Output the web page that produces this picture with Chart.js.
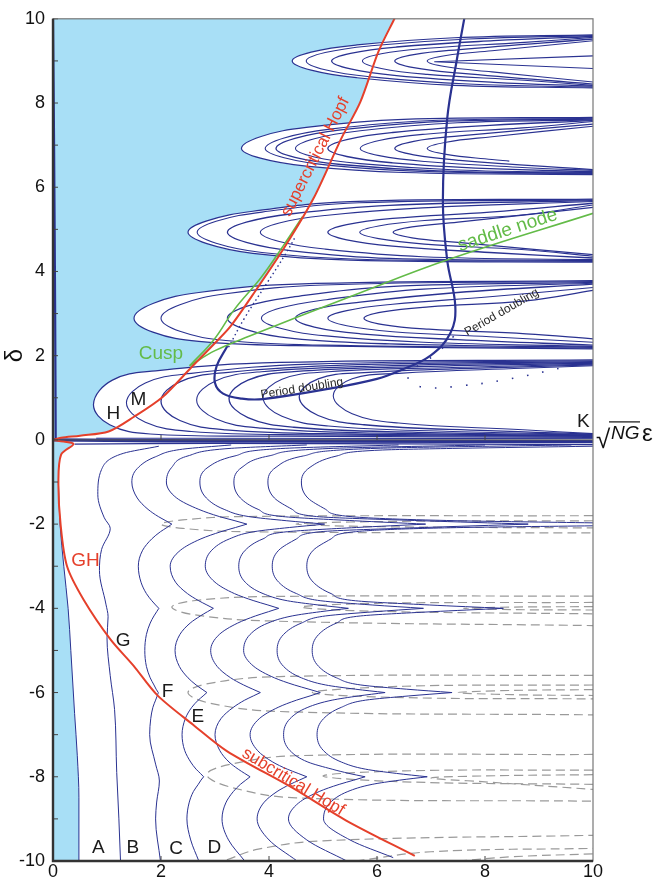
<!DOCTYPE html>
<html>
<head>
<meta charset="utf-8">
<style>
  html, body { margin: 0; padding: 0; background: #fff; }
  #wrap { width: 659px; height: 886px; }
</style>
<script src="https://cdn.jsdelivr.net/npm/chart.js@4.4.1/dist/chart.umd.min.js"></script>
</head>
<body>
<div id="wrap"><canvas id="myChart" width="659" height="886"></canvas></div>
<script>
'use strict';

var NAVY = '#2a3291', RED = '#e5402b', GREEN = '#63bb48', SKY = '#a8dff6', GREY = '#9a9a9a';
var FONT = "'Liberation Sans', Arial, Helvetica, sans-serif";

// axes
var xTickValues = [0, 2, 4, 6, 8, 10];
var yTickValues = [-10, -9, -8, -7, -6, -5, -4, -3, -2, -1, 0, 1, 2, 3, 4, 5, 6, 7, 8, 9, 10];
var yLabelValues = [-10, -8, -6, -4, -2, 0, 2, 4, 6, 8, 10];

// bifurcation lines  [sqrt(NG)*eps, delta]
var hopfSuper = [[0,0],[0.15,0.05],[0.5,0.1],[1.03,0.2],[1.5,0.55],[2.03,1.02],[2.56,1.72],[3.0,2.3],[3.29,2.7],[3.76,3.56],[4.29,4.58],[4.83,5.75],[5.34,7.16],[5.69,8.02],[6.03,9.23],[6.33,10.02]];
var hopfSub = [[0,0],[0.2,-0.04],[0.38,-0.1],[0.15,-0.35],[0.1,-1.0],[0.14,-2.0],[0.26,-3.0],[0.57,-3.8],[1.06,-4.73],[1.49,-5.36],[1.93,-6.06],[2.6,-6.77],[3.22,-7.39],[4.43,-8.26],[5.43,-9.04],[6.7,-9.88]];
var cuspBranch = [[2.53,1.76],[2.98,2.38],[3.36,3.1],[3.85,3.85],[4.27,4.62],[4.62,5.3]];
var saddleNode = [[2.53,1.76],[3.0,2.12],[3.63,2.46],[5.5,3.4],[7.36,4.3],[10,5.38]];
var pdCurve = [[3.23,2.23],[3.03,1.75],[3.0,1.35],[3.15,1.1],[3.5,0.98],[3.89,0.97],[5.09,1.21],[6.0,1.45],[6.43,1.65],[6.99,2.0],[7.36,2.54],[7.45,3.17],[7.3,4.27],[7.22,5.67],[7.3,7.63],[7.48,9.04],[7.63,10.1]];
var pdDotsLeft = [[3.25,2.2],[3.55,2.9],[3.95,3.7],[4.3,4.4],[4.5,4.85]];
var pdDotsRight = [[7.42,2.46],[7.1,2.05],[6.7,1.7],[6.58,1.45],[6.86,1.25],[7.6,1.29],[8.47,1.45],[9.58,1.76]];
var leftEdge = [[0.05,0.02],[0.04,3],[0.02,7],[0,10]];
var zeroBand = [[0,0],[2,-0.02],[10,-0.04]];
var zeroBandLow = [[0.4,-0.1],[3,-0.08],[10,-0.11]];
var zeroBandHigh = [[0.8,0.04],[10,0.03]];

// upper half: tongues (first curve of each row is the outer one)
var tonguesRow1 = [
  [[10,1.9],[4.2,1.84],[1.9,1.64],[1.1,1.42],[0.75,0.85],[1.05,0.36],[1.8,0.14],[4.2,0.09],[10,0.06]],
  [[10,1.88],[4.8,1.8],[2.56,1.58],[1.71,1.35],[1.36,0.88],[1.71,0.42],[2.56,0.2],[4.8,0.12],[10,0.08]],
  [[10,1.86],[5.5,1.78],[3.2,1.6],[2.35,1.38],[2.0,0.92],[2.35,0.46],[3.2,0.24],[5.5,0.14],[10,0.1]],
  [[10,1.84],[6.16,1.76],[3.86,1.62],[3.01,1.4],[2.66,0.95],[3.01,0.5],[3.86,0.28],[6.16,0.16],[10,0.11]],
  [[10,1.82],[6.76,1.74],[4.46,1.62],[3.61,1.42],[3.26,0.98],[3.61,0.53],[4.46,0.3],[6.76,0.18],[10,0.12]],
  [[10,1.8],[7.4,1.72],[5.1,1.62],[4.24,1.44],[3.89,1.0],[4.24,0.56],[5.1,0.33],[7.4,0.2],[10,0.13]],
  [[10,1.78],[8.06,1.71],[5.76,1.6],[4.91,1.45],[4.56,1.02],[4.91,0.58],[5.76,0.36],[8.06,0.22],[10,0.14]],
  [[10,1.76],[8.7,1.7],[6.4,1.58],[5.54,1.45],[5.19,1.05],[5.54,0.62],[6.4,0.4],[8.7,0.24],[10,0.15]]
];
var tonguesRow2 = [
  [[10,3.78],[4.5,3.7],[2.7,3.5],[1.85,3.24],[1.5,2.89],[1.85,2.56],[2.7,2.34],[4.5,2.24],[10,2.16]],
  [[10,3.76],[5.0,3.68],[3.2,3.47],[2.35,3.21],[2.0,2.89],[2.35,2.58],[3.2,2.36],[5.0,2.25],[10,2.18]],
  [[10,3.74],[6.23,3.64],[4.43,3.39],[3.58,3.17],[3.23,2.89],[3.58,2.62],[4.43,2.41],[6.23,2.28],[10,2.2]],
  [[10,3.72],[6.86,3.58],[5.06,3.33],[4.21,3.13],[3.86,2.89],[4.21,2.65],[5.06,2.47],[6.86,2.32],[10,2.22]],
  [[10,3.7],[7.49,3.5],[5.69,3.27],[4.84,3.1],[4.49,2.89],[4.84,2.68],[5.69,2.52],[7.49,2.38],[10,2.25]],
  [[10,3.62],[8.09,3.4],[6.29,3.22],[5.44,3.07],[5.09,2.89],[5.44,2.71],[6.29,2.57],[8.09,2.45],[10,2.32]],
  [[10,3.55],[8.76,3.3],[6.96,3.16],[6.11,3.04],[5.76,2.89],[6.11,2.74],[6.96,2.63],[8.76,2.52],[10,2.4]]
];
var tonguesRow3 = [
  [[10,5.72],[5.5,5.66],[3.7,5.43],[2.85,5.2],[2.5,4.93],[2.85,4.66],[3.7,4.43],[5.5,4.27],[10,4.22]],
  [[10,5.7],[5.67,5.63],[3.87,5.41],[3.02,5.19],[2.67,4.93],[3.02,4.67],[3.87,4.45],[5.67,4.29],[10,4.24]],
  [[10,5.68],[6.23,5.57],[4.43,5.37],[3.58,5.17],[3.23,4.93],[3.58,4.69],[4.43,4.49],[6.23,4.31],[10,4.26]],
  [[10,5.66],[6.84,5.51],[5.04,5.33],[4.19,5.15],[3.84,4.93],[4.19,4.71],[5.04,4.53],[6.84,4.35],[10,4.28]],
  [[10,5.62],[8.09,5.41],[6.29,5.26],[5.44,5.11],[5.09,4.93],[5.44,4.75],[6.29,4.6],[8.09,4.45],[10,4.32]],
  [[10,5.58],[8.68,5.34],[6.88,5.21],[6.03,5.08],[5.68,4.93],[6.03,4.78],[6.88,4.65],[8.68,4.52],[10,4.36]],
  [[10,5.52],[7.5,5.17],[6.65,5.06],[6.3,4.93],[6.65,4.8],[7.5,4.69],[10,4.4]]
];
var tonguesRow4 = [
  [[10,7.66],[6.49,7.61],[4.69,7.42],[3.84,7.2],[3.49,6.92],[3.84,6.69],[4.69,6.5],[6.49,6.35],[10,6.3]],
  [[10,7.64],[6.93,7.58],[5.13,7.38],[4.28,7.17],[3.93,6.92],[4.28,6.7],[5.13,6.52],[6.93,6.37],[10,6.32]],
  [[10,7.62],[7.13,7.56],[5.33,7.36],[4.48,7.16],[4.13,6.92],[4.48,6.71],[5.33,6.54],[7.13,6.39],[10,6.33]],
  [[10,7.6],[7.49,7.53],[5.69,7.34],[4.84,7.15],[4.49,6.92],[4.84,6.72],[5.69,6.56],[7.49,6.41],[10,6.35]],
  [[10,7.58],[8.09,7.47],[6.29,7.3],[5.44,7.13],[5.09,6.92],[5.44,6.73],[6.29,6.58],[8.09,6.44],[10,6.37]],
  [[10,7.56],[8.69,7.41],[6.89,7.26],[6.04,7.11],[5.69,6.92],[6.04,6.75],[6.89,6.61],[8.69,6.47],[10,6.4]],
  [[10,7.5],[7.53,7.22],[6.68,7.09],[6.33,6.92],[6.68,6.77],[7.53,6.64],[10,6.42]],
  [[10,7.45],[8.13,7.2],[7.28,7.07],[6.93,6.92],[7.28,6.78],[8.13,6.66],[8.45,6.62]]
];
var tonguesRow5 = [
  [[10,9.62],[7.43,9.55],[5.63,9.38],[4.78,9.21],[4.43,9.0],[4.78,8.78],[5.63,8.6],[7.43,8.42],[10,8.36]],
  [[10,9.6],[7.69,9.52],[5.89,9.36],[5.04,9.2],[4.69,9.0],[5.04,8.79],[5.89,8.62],[7.69,8.45],[10,8.38]],
  [[10,9.58],[8.16,9.48],[6.36,9.33],[5.51,9.18],[5.16,9.0],[5.51,8.81],[6.36,8.65],[8.16,8.49],[10,8.4]],
  [[10,9.56],[8.73,9.44],[6.93,9.3],[6.08,9.17],[5.73,9.0],[6.08,8.82],[6.93,8.68],[8.73,8.54],[10,8.42]],
  [[10,9.52],[7.53,9.27],[6.68,9.15],[6.33,9.0],[6.68,8.84],[7.53,8.71],[10,8.45]],
  [[10,9.48],[8.13,9.24],[7.28,9.13],[6.93,9.0],[7.28,8.86],[8.13,8.74],[10,8.5]]
];
var wedgeRow5 = [[10,9.12],[7.06,8.98],[10,8.82]];

// lower half: contours A..H ('c' = cusp, null = break), delta decreasing along each
var curveA = [[0.1,-1.0],[0.13,-2],[0.2,-3],[0.28,-4],[0.33,-5],[0.4,-6.5],[0.45,-7.5],[0.48,-8.5],[0.48,-10]];
var curveB = [[1.96,-0.15],[1.3,-0.32],[0.9,-0.7],[0.83,-1.3],[0.95,-1.85],[1.06,-2.1],[0.9,-2.6],[0.86,-3.1],[0.98,-3.9],[1.02,-4.2],[1.0,-4.7],[1.06,-5.6],[1.14,-6.4],[1.18,-7.9],[1.22,-9],[1.25,-10]];
var curveC = [[3.3,-0.12],[2.4,-0.22],[1.9,-0.4],[1.56,-0.68],[1.46,-1.0],[1.56,-1.38],[1.76,-1.65],[1.95,-1.82],[2.09,-1.92],[2.2,-2,'c'],[2.11,-2.08],[1.99,-2.18],[1.83,-2.35],[1.66,-2.62],[1.58,-3.0],[1.63,-3.38],[1.73,-3.65],[1.83,-3.82],[1.9,-3.92],[1.96,-4,'c'],[1.92,-4.08],[1.87,-4.18],[1.8,-4.35],[1.73,-4.62],[1.7,-5.0],[1.73,-5.38],[1.8,-5.65],[1.87,-5.82],[1.91,-5.92],[1.95,-6,'c'],[1.93,-6.08],[1.9,-6.18],[1.85,-6.35],[1.81,-6.62],[1.79,-7.0],[1.9,-7.7],[1.97,-8.1],[1.92,-8.6],[1.9,-9.0],[1.99,-10]];
var curveD = [[4.7,-0.12],[3.3,-0.2],[2.5,-0.38],[2.2,-0.65],[2.1,-1.0],[2.29,-1.38],[2.7,-1.65],[3.08,-1.82],[3.37,-1.92],[3.59,-2,'c'],[3.38,-2.08],[3.11,-2.18],[2.74,-2.35],[2.36,-2.62],[2.17,-3.0],[2.27,-3.38],[2.49,-3.65],[2.7,-3.82],[2.85,-3.92],[2.97,-4,'c'],[2.86,-4.08],[2.73,-4.18],[2.54,-4.35],[2.35,-4.62],[2.26,-5.0],[2.34,-5.38],[2.5,-5.65],[2.65,-5.82],[2.76,-5.92],[2.85,-6,'c'],[2.78,-6.08],[2.69,-6.18],[2.57,-6.35],[2.45,-6.62],[2.39,-7.0],[2.44,-7.38],[2.55,-7.65],[2.65,-7.82],[2.73,-7.92],[2.79,-8,'c'],[2.74,-8.08],[2.69,-8.18],[2.6,-8.35],[2.52,-8.62],[2.48,-9.0],[2.55,-9.5],[2.7,-10]];
var curveE = [[6.4,-0.12],[4.3,-0.2],[3.37,-0.38],[2.87,-0.65],[2.72,-1.0],[2.84,-1.38],[3.17,-1.65],[3.62,-1.82],[4.33,-1.92],[5.03,-2,'c'],[4.38,-2.08],[3.72,-2.18],[3.27,-2.35],[2.94,-2.62],[2.82,-3.0],[3.0,-3.38],[3.36,-3.65],[3.72,-3.82],[3.98,-3.92],[4.18,-4,'c'],[3.99,-4.08],[3.75,-4.18],[3.42,-4.35],[3.08,-4.62],[2.92,-5.0],[3.04,-5.38],[3.29,-5.65],[3.53,-5.82],[3.7,-5.92],[3.84,-6,'c'],[3.71,-6.08],[3.55,-6.18],[3.34,-6.35],[3.11,-6.62],[3.0,-7.0],[3.09,-7.38],[3.26,-7.65],[3.43,-7.82],[3.55,-7.92],[3.65,-8,'c'],[3.57,-8.08],[3.47,-8.18],[3.34,-8.35],[3.2,-8.62],[3.13,-9.0],[3.25,-9.5],[3.55,-10]];
var curveF = [[8.0,-0.12],[5.2,-0.2],[4.0,-0.38],[3.5,-0.65],[3.35,-1.0],[3.47,-1.38],[3.8,-1.65],[4.25,-1.82],[5.58,-1.92],[6.9,-2,'c'],[5.62,-2.08],[4.34,-2.18],[3.89,-2.35],[3.56,-2.62],[3.44,-3.0],[3.56,-3.38],[3.89,-3.65],[4.34,-3.82],[4.91,-3.92],[5.47,-4,'c'],[4.95,-4.08],[4.43,-4.18],[3.98,-4.35],[3.65,-4.62],[3.53,-5.0],[3.72,-5.38],[4.1,-5.65],[4.47,-5.82],[4.74,-5.92],[4.95,-6,'c'],[4.76,-6.08],[4.51,-6.18],[4.17,-6.35],[3.82,-6.62],[3.65,-7.0],[3.79,-7.38],[4.07,-7.65],[4.34,-7.82],[4.54,-7.92],[4.7,-8,'c'],[4.56,-8.08],[4.39,-8.18],[4.15,-8.35],[3.9,-8.62],[3.78,-9.0],[4.0,-9.5],[4.52,-10]];
var curveG = [[9.6,-0.12],[6.0,-0.2],[4.64,-0.38],[4.13,-0.65],[3.98,-1.0],[4.1,-1.38],[4.43,-1.65],[4.88,-1.82],[6.84,-1.92],[8.8,-2,'c'],[6.88,-2.08],[4.96,-2.18],[4.51,-2.35],[4.18,-2.62],[4.06,-3.0],[4.18,-3.38],[4.51,-3.65],[4.96,-3.82],[5.91,-3.92],[6.86,-4,'c'],[5.96,-4.08],[5.05,-4.18],[4.6,-4.35],[4.27,-4.62],[4.15,-5.0],[4.27,-5.38],[4.6,-5.65],[5.05,-5.82],[5.6,-5.92],[6.15,-6,'c'],[5.66,-6.08],[5.17,-6.18],[4.72,-6.35],[4.39,-6.62],[4.27,-7.0],[4.39,-7.38],[4.72,-7.65],[5.17,-7.82],[5.48,-7.92],[5.78,-8,'c'],[5.57,-8.08],[5.3,-8.18],[4.93,-8.35],[4.55,-8.62],[4.36,-9.0],[4.7,-9.5],[5.44,-10]];
var curveH = [[10,-0.15],[7.5,-0.2],[6.1,-0.24],[5.26,-0.38],[4.76,-0.65],[4.6,-1.0],[4.72,-1.38],[5.05,-1.65],[5.5,-1.82],[7.5,-1.92],[10,-1.97],null,[10,-2.04],[7.6,-2.08],[5.6,-2.18],[5.15,-2.35],[4.82,-2.62],[4.7,-3.0],[4.82,-3.38],[5.15,-3.65],[5.6,-3.82],[6.97,-3.92],[8.34,-4,'c'],[7.02,-4.08],[5.7,-4.18],[5.25,-4.35],[4.92,-4.62],[4.8,-5.0],[4.92,-5.38],[5.25,-5.65],[5.7,-5.82],[6.55,-5.92],[7.39,-6,'c'],[6.59,-6.08],[5.79,-6.18],[5.34,-6.35],[5.01,-6.62],[4.89,-7.0],[5.01,-7.38],[5.34,-7.65],[5.79,-7.82],[6.36,-7.92],[6.93,-8,'c'],[6.42,-8.08],[5.91,-8.18],[5.46,-8.35],[5.13,-8.62],[5.01,-9.0],[5.5,-9.5],[6.3,-9.92]];

// lower half: dashed (unstable) branches
var dashedCurves = [
  [[10,-1.8],[3.5,-1.82],[2.4,-1.9],[2.0,-2.0],[2.4,-2.1],[3.5,-2.18],[10,-2.21]],
  [[10,-1.92],[6.0,-1.94],[4.5,-2.0],[6.0,-2.06],[10,-2.09]],
  [[10,-3.71],[4.0,-3.72],[2.6,-3.82],[2.2,-3.97],[2.6,-4.15],[4.0,-4.3],[10,-4.41]],
  [[10,-3.86],[6.0,-3.88],[4.6,-3.97],[6.0,-4.07],[10,-4.13]],
  [[10,-3.96],[8.5,-3.97],[7.6,-4.0],[8.5,-4.03],[10,-4.04]],
  [[10,-5.59],[4.2,-5.62],[2.9,-5.78],[2.5,-6.0],[2.9,-6.25],[4.2,-6.45],[10,-6.53]],
  [[10,-5.82],[6.5,-5.85],[4.8,-6.0],[6.5,-6.12],[10,-6.15]],
  [[10,-5.93],[8.5,-5.95],[7.5,-6.0],[8.5,-6.05],[10,-6.07]],
  [[10,-7.47],[4.5,-7.5],[3.3,-7.7],[2.85,-7.95],[3.3,-8.25],[4.5,-8.5],[10,-8.58]],
  [[10,-7.84],[6.5,-7.86],[5.0,-7.98],[6.5,-8.12],[10,-8.18]],
  [[10,-7.95],[8.0,-7.98],[7.0,-8.03],[8.0,-8.12],[10,-8.3]],
  [[3.22,-9.97],[3.8,-9.72],[5.0,-9.52],[10,-9.39]],
  [[5.6,-10],[7.0,-9.78],[10,-9.7]],
  [[7.5,-10],[8.5,-9.9],[10,-9.83]]
];

// text labels: text, x, delta, colour, size, angle(deg)
var textLabels = [
  ['H', 1.12, 0.63, '#1a1a1a', 19, 0],
  ['M', 1.58, 0.96, '#1a1a1a', 19, 0],
  ['K', 9.82, 0.42, '#1a1a1a', 19, 0],
  ['A', 0.84, -9.69, '#1a1a1a', 19, 0],
  ['B', 1.48, -9.69, '#1a1a1a', 19, 0],
  ['C', 2.28, -9.72, '#1a1a1a', 19, 0],
  ['D', 2.99, -9.69, '#1a1a1a', 19, 0],
  ['E', 2.68, -6.57, '#1a1a1a', 19, 0],
  ['F', 2.12, -5.99, '#1a1a1a', 19, 0],
  ['G', 1.3, -4.77, '#1a1a1a', 19, 0],
  ['GH', 0.6, -2.86, RED, 19, 0],
  ['Cusp', 2.0, 2.04, GREEN, 19, 0],
  ['saddle node', 8.42, 4.98, GREEN, 19, -18],
  ['supercritical Hopf', 4.86, 6.72, RED, 17, -63],
  ['subcritical Hopf', 4.45, -8.12, RED, 17, 31],
  ['Period doubling', 4.61, 1.22, '#2a2a2a', 12, -9],
  ['Period doubling', 8.31, 3.03, '#2a2a2a', 12, -30]
];

function toPts(arr) {
  var out = [];
  arr.forEach(function (p) {
    if (p === null) { out.push({x: null, y: null}); return; }
    out.push({x: p[0], y: p[1]});
    if (p[2] === 'c') {
      out.push({x: null, y: null});
      out.push({x: p[0], y: p[1]});
    }
  });
  return out;
}

var datasets = [];
function addLine(arr, opt) {
  datasets.push(Object.assign({
    data: toPts(arr), showLine: true, pointRadius: 0, pointHoverRadius: 0,
    borderColor: NAVY, borderWidth: 1, tension: 0.4, fill: false, order: 15, spanGaps: false
  }, opt || {}));
}

// light blue regions
addLine([[0,0]].concat(hopfSuper, [[6.4,10.3],[-0.2,10.3]]), {fill: 'shape', backgroundColor: SKY, borderWidth: 0, borderColor: 'rgba(0,0,0,0)', tension: 0.3, order: 30});
addLine(hopfSub.slice(0, 4).concat(curveA, [[0.48,-10.3],[-0.2,-10.3],[-0.2,0]]), {fill: 'shape', backgroundColor: SKY, borderWidth: 0, borderColor: 'rgba(0,0,0,0)', tension: 0.3, order: 30});

// dashed branches
dashedCurves.forEach(function (c) {
  addLine(c, {borderColor: GREY, borderWidth: 1.2, borderDash: [9, 5], order: 25});
});

// tongues
[tonguesRow1, tonguesRow2, tonguesRow3, tonguesRow4, tonguesRow5].forEach(function (row) {
  row.forEach(function (c, i) {
    if (i === 0) addLine(c, {fill: 'shape', backgroundColor: '#ffffff', borderWidth: 1.2, order: 20});
    else addLine(c, {borderWidth: i % 2 ? 1.1 : 1.3});
  });
});
addLine(wedgeRow5, {tension: 0, borderWidth: 1.1});

// lower contours: smooth in delta
[curveA, curveB, curveC, curveD, curveE, curveF, curveG, curveH].forEach(function (c) {
  addLine(c, {type: 'line', indexAxis: 'y', cubicInterpolationMode: 'monotone', borderWidth: 1});
});

// lines along delta = 0 and the left edge
addLine(zeroBand, {borderWidth: 3.4, tension: 0, order: 12});
addLine(zeroBandLow, {borderWidth: 1.3, tension: 0.3, order: 12});
addLine(zeroBandHigh, {borderWidth: 1, tension: 0, order: 12});
addLine(leftEdge, {borderWidth: 2.2, tension: 0.3, order: 12});

// period doubling
addLine(pdCurve, {borderWidth: 2.2, order: 8});
addLine(pdDotsLeft, {borderWidth: 1.4, borderDash: [1.5, 3], order: 8});
addLine(pdDotsRight, {borderWidth: 1.6, borderDash: [1.5, 14], order: 8});

// cusp / saddle node and Hopf lines
addLine(cuspBranch, {borderColor: GREEN, borderWidth: 1.6, order: 6});
addLine(saddleNode, {borderColor: GREEN, borderWidth: 1.6, order: 6});
addLine(hopfSuper, {borderColor: RED, borderWidth: 2, tension: 0.3, order: 4});
addLine(hopfSub, {borderColor: RED, borderWidth: 2, tension: 0.3, order: 4});

var framePlugin = {
  id: 'frame',
  afterDatasetsDraw: function (chart) {
    var ctx = chart.ctx, xs = chart.scales.x, ys = chart.scales.y, a = chart.chartArea;
    ctx.save();
    var y0 = ys.getPixelForValue(0);
    ctx.strokeStyle = '#555';
    ctx.lineWidth = 1;
    ctx.beginPath(); ctx.moveTo(a.left, y0); ctx.lineTo(a.right, y0); ctx.stroke();
    ctx.strokeStyle = '#444';
    ctx.beginPath();
    [2, 4, 6, 8].forEach(function (v) {
      var px = xs.getPixelForValue(v);
      ctx.moveTo(px, y0); ctx.lineTo(px, y0 - 5);
      ctx.moveTo(px, a.bottom); ctx.lineTo(px, a.bottom - 5);
    });
    yTickValues.forEach(function (v) {
      var py = ys.getPixelForValue(v);
      ctx.moveTo(a.left, py); ctx.lineTo(a.left + 5, py);
    });
    ctx.stroke();

    textLabels.forEach(function (l) {
      ctx.save();
      ctx.translate(xs.getPixelForValue(l[1]), ys.getPixelForValue(l[2]));
      ctx.rotate(l[5] * Math.PI / 180);
      ctx.fillStyle = l[3];
      ctx.font = l[4] + 'px ' + FONT;
      ctx.textAlign = 'center';
      ctx.textBaseline = 'middle';
      ctx.fillText(l[0], 0, 0);
      ctx.restore();
    });
    ctx.restore();
  },
  afterDraw: function (chart) {
    var ctx = chart.ctx, ys = chart.scales.y, a = chart.chartArea;
    ctx.save();
    ctx.strokeStyle = '#777';
    ctx.lineWidth = 1.2;
    ctx.strokeRect(a.left, a.top, a.right - a.left, a.bottom - a.top);
    ctx.strokeStyle = '#333';
    ctx.lineWidth = 2.4;
    ctx.beginPath();
    ctx.moveTo(a.left, a.top); ctx.lineTo(a.left, a.bottom); ctx.lineTo(a.right, a.bottom);
    ctx.stroke();

    // axis titles
    ctx.fillStyle = '#111';
    ctx.save();
    ctx.translate(15, ys.getPixelForValue(2));
    ctx.rotate(-Math.PI / 2);
    ctx.font = '24px ' + FONT;
    ctx.textAlign = 'center';
    ctx.textBaseline = 'middle';
    ctx.fillText('\u03B4', 0, 0);
    ctx.restore();

    var y0 = ys.getPixelForValue(0);
    var x0 = a.right + 3;
    ctx.textBaseline = 'alphabetic';
    ctx.textAlign = 'left';
    ctx.font = '26px ' + FONT;
    ctx.fillText('\u221A', x0, y0 + 8);
    ctx.font = 'italic 19px ' + FONT;
    ctx.fillText('NG', x0 + 15, y0 - 1);
    ctx.lineWidth = 1.2;
    ctx.strokeStyle = '#111';
    ctx.beginPath(); ctx.moveTo(x0 + 13, y0 - 18); ctx.lineTo(x0 + 44, y0 - 18); ctx.stroke();
    ctx.font = '24px ' + FONT;
    ctx.fillText('\u03B5', x0 + 46, y0 + 1);
    ctx.restore();
  }
};

var ctx = document.getElementById('myChart').getContext('2d');
var myChart = new Chart(ctx, {
  type: 'scatter',
  data: { datasets: datasets },
  options: {
    responsive: false,
    animation: false,
    devicePixelRatio: 1,
    layout: { padding: { left: 0, right: 66, top: 9, bottom: 0 } },
    plugins: { legend: { display: false }, tooltip: { enabled: false } },
    scales: {
      x: {
        type: 'linear', min: 0, max: 10,
        afterBuildTicks: function (s) { s.ticks = xTickValues.map(function (v) { return {value: v}; }); },
        ticks: { font: { family: FONT, size: 18 }, color: '#111', padding: 0, maxRotation: 0, autoSkip: false },
        grid: { display: false, drawTicks: false },
        border: { display: false },
        afterFit: function (s) { s.height = 25; }
      },
      y: {
        type: 'linear', min: -10, max: 10,
        afterBuildTicks: function (s) { s.ticks = yTickValues.map(function (v) { return {value: v}; }); },
        ticks: {
          font: { family: FONT, size: 18 }, color: '#111', padding: 8, autoSkip: false,
          callback: function (v) { return yLabelValues.indexOf(v) >= 0 ? String(v) : ''; }
        },
        grid: { display: false, drawTicks: false },
        border: { display: false },
        afterFit: function (s) { s.width = 53; }
      }
    }
  },
  plugins: [framePlugin]
});
</script>
</body>
</html>
